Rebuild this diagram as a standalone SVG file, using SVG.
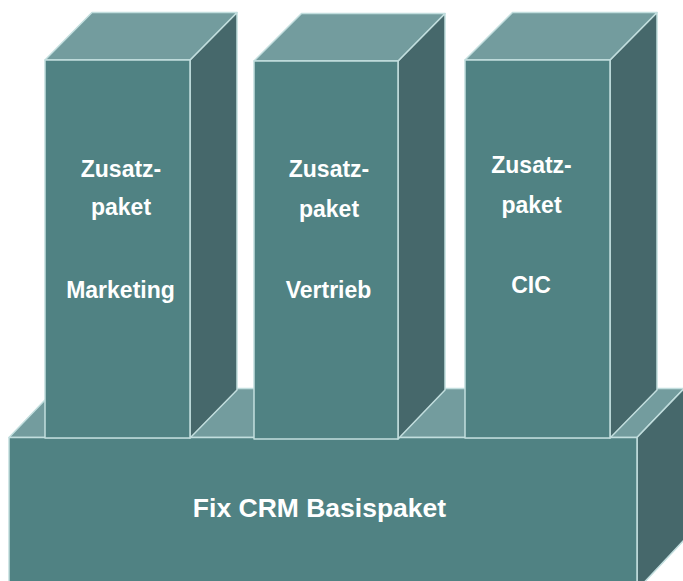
<svg xmlns="http://www.w3.org/2000/svg" width="683" height="581" viewBox="0 0 683 581">
<style>
.front{fill:#508283;stroke:#c2dede;stroke-width:1.5;stroke-linejoin:round}
.top{fill:#739c9e;stroke:#c2dede;stroke-width:1.5;stroke-linejoin:round}
.side{fill:#46686b;stroke:#c2dede;stroke-width:1.5;stroke-linejoin:round}
.lbl{font-family:"Liberation Sans",Arial,sans-serif;font-weight:bold;font-size:23px;fill:#ffffff;text-anchor:middle}
.big{font-size:26.5px}
</style>
<rect width="683" height="581" fill="#ffffff"/>
<g id="base">
<polygon class="top" points="9,437.5 56,388.5 684,388.5 637,437.5"/>
<polygon class="side" points="637,437.5 684,388.5 684,540 637,590"/>
<rect class="front" x="9" y="437.5" width="628" height="160"/>
<text class="lbl big" x="319.5" y="517">Fix CRM Basispaket</text>
</g>
<g id="box-marketing">
<polygon class="side" points="190,60 237,12.5 237,390 190,438"/>
<polygon class="top" points="45,60 92,12.5 237,12.5 190,60"/>
<rect class="front" x="45" y="60" width="145" height="378"/>
<text class="lbl" x="121" y="177">Zusatz-</text>
<text class="lbl" x="121" y="215">paket</text>
<text class="lbl" x="120.5" y="298">Marketing</text>
</g>
<g id="box-vertrieb">
<polygon class="side" points="398,61 445,13.5 445,390 398,439"/>
<polygon class="top" points="254,61 301.5,13.5 445,13.5 398,61"/>
<rect class="front" x="254" y="61" width="144" height="378"/>
<text class="lbl" x="329" y="177">Zusatz-</text>
<text class="lbl" x="329" y="216.5">paket</text>
<text class="lbl" x="328.5" y="297.5">Vertrieb</text>
</g>
<g id="box-cic">
<polygon class="side" points="610,60 657,12.5 657,390 610,438"/>
<polygon class="top" points="465,60 512.5,12.5 657,12.5 610,60"/>
<rect class="front" x="465" y="60" width="145" height="378"/>
<text class="lbl" x="531.5" y="172.5">Zusatz-</text>
<text class="lbl" x="531.5" y="213">paket</text>
<text class="lbl" x="531" y="292.5">CIC</text>
</g>
<g id="connectors"/>
</svg>
